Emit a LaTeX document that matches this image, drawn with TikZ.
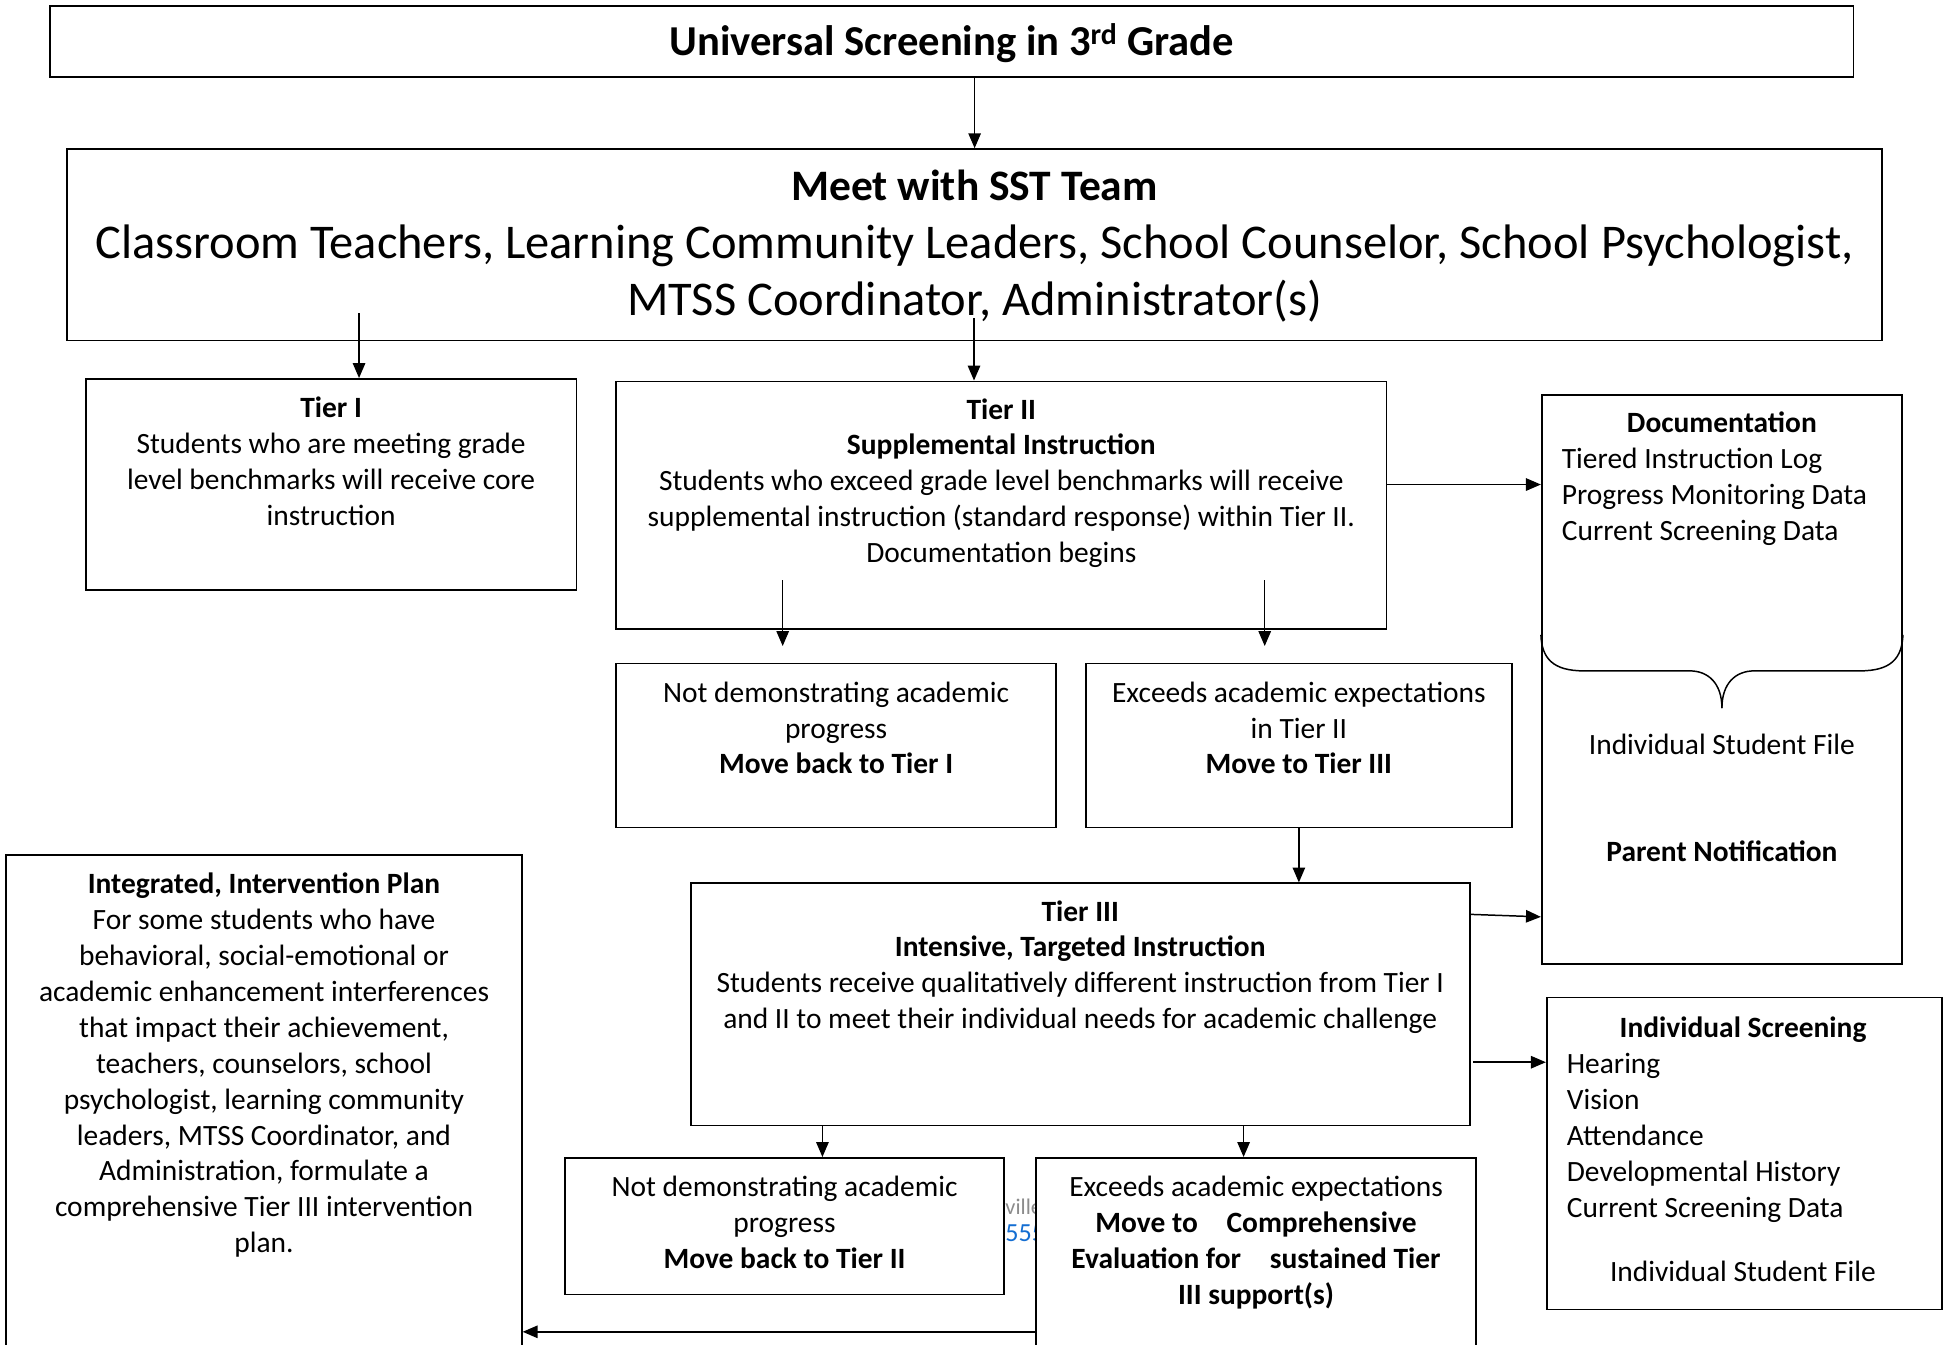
\documentclass[tikz,border=0pt]{standalone}
\usepackage{fontspec}
\setmainfont{Carlito}
\usetikzlibrary{arrows.meta}
\definecolor{artgray}{RGB}{140,140,140}
\definecolor{artblue}{RGB}{20,110,210}
\tikzset{
  box/.style={draw, line width=1.4pt, fill=white, inner sep=0pt},
  txt/.style={anchor=north, inner sep=0pt, align=center, font=\fontsize{23.7}{28.9}\selectfont},
  ltxt/.style={anchor=north west, inner sep=0pt, align=left, font=\fontsize{23.7}{28.9}\selectfont},
  arr/.style={line width=1.2pt, -{Triangle[length=12pt,width=10pt]}},
  brace/.style={line width=1.2pt},
}
\begin{document}
\begin{tikzpicture}[x=1pt,y=-1pt]
\useasboundingbox (0,0) rectangle (1568,1082);
\fill[white] (0,0) rectangle (1568,1082);
\clip (0,0) rectangle (1568,1082);

% stray fragments behind boxes
\node[anchor=east, inner sep=0pt, text=artgray, font=\fontsize{18}{22}\selectfont] (art1) at (839,971) {ville};
\node[anchor=west, inner sep=0pt, text=artblue, font=\fontsize{21}{24}\selectfont] (art2) at (809,993) {555};

% boxes
\node[box, minimum width=1452pt, minimum height=57pt] (top) at (766,33.5) {};
\node[box, minimum width=1461pt, minimum height=154pt] (sst) at (784.5,197) {};
\node[box, minimum width=395pt, minimum height=170pt] (tier1) at (266.5,390) {};
\node[box, minimum width=620pt, minimum height=199pt] (tier2) at (806,406.5) {};
\node[box, minimum width=290pt, minimum height=458pt] (doc) at (1386,547) {};
\node[box, minimum width=354pt, minimum height=132pt] (nd1) at (673,600) {};
\node[box, minimum width=343pt, minimum height=132pt] (ex1) at (1045.5,600) {};
\node[box, minimum width=627pt, minimum height=195pt] (tier3) at (869.5,808.5) {};
\node[box, minimum width=318pt, minimum height=251pt] (isc) at (1404,928.5) {};
\node[box, minimum width=353pt, minimum height=110pt] (nd2) at (631.5,987) {};
\node[box, minimum width=354pt, minimum height=168pt] (ex2) at (1011,1016) {};
\node[box, minimum width=415pt, minimum height=412pt] (integ) at (212.5,894) {};

% texts
\node[inner sep=0pt, font=\fontsize{34.3}{40}\selectfont\bfseries] (toptxt) at (766,35) {Universal Screening in 3\textsuperscript{rd} Grade};
\node[txt, font=\fontsize{39}{46}\selectfont] (ssttxt) at (784.5,137) {\textbf{\fontsize{35}{46}\selectfont Meet with SST Team}\\Classroom Teachers, Learning Community Leaders, School Counselor, School Psychologist,\\MTSS Coordinator, Administrator(s)};
\node[txt] (t1txt) at (266.5,319.5) {\textbf{Tier I}\\Students who are meeting grade\\level benchmarks will receive core\\instruction};
\node[txt] (t2txt) at (806,320.5) {\textbf{Tier II}\\\textbf{Supplemental Instruction}\\Students who exceed grade level benchmarks will receive\\supplemental instruction (standard response) within Tier II.\\Documentation begins};
\node[txt] (doctitle) at (1386,331.5) {\textbf{Documentation}};
\node[ltxt] (doclist) at (1257,360.5) {Tiered Instruction Log\\Progress Monitoring Data\\Current Screening Data};
\node[txt] (docfile) at (1386,590.5) {Individual Student File};
\node[txt] (docparent) at (1386,676.5) {\textbf{Parent Notification}};
\node[txt] (nd1txt) at (673,548.5) {Not demonstrating academic\\progress\\\textbf{Move back to Tier I}};
\node[txt] (ex1txt) at (1045.5,548.5) {Exceeds academic expectations\\in Tier II\\\textbf{Move to Tier III}};
\node[txt] (t3txt) at (869.5,724.5) {\textbf{Tier III}\\\textbf{Intensive, Targeted Instruction}\\Students receive qualitatively different instruction from Tier I\\and II to meet their individual needs for academic challenge};
\node[txt] (isctitle) at (1403,818.5) {\textbf{Individual Screening}};
\node[ltxt] (isclist) at (1261,847.5) {Hearing\\Vision\\Attendance\\Developmental History\\Current Screening Data};
\node[txt] (iscfile) at (1403,1014.5) {Individual Student File};
\node[txt] (nd2txt) at (631.5,946.5) {Not demonstrating academic\\progress\\\textbf{Move back to Tier II}};
\node[txt] (ex2txt) at (1011,946.5) {Exceeds academic expectations\\\textbf{Move to\hspace{0.75em} Comprehensive}\\\textbf{Evaluation for\hspace{0.75em} sustained Tier}\\\textbf{III support(s)}};
\node[txt] (integtxt) at (212.5,702.5) {\textbf{Integrated, Intervention Plan}\\For some students who have\\behavioral, social-emotional or\\academic enhancement interferences\\that impact their achievement,\\teachers, counselors, school\\psychologist, learning community\\leaders, MTSS Coordinator, and\\Administration, formulate a\\comprehensive Tier III intervention\\plan.};

% brace in documentation box
\draw[brace] (doc.west |- 0,511) .. controls (1241,530) and (1250,540) .. (1275,540) -- (1360,540) .. controls (1375,540) and (1386,550) .. (1386,570);
\draw[brace] (doc.east |- 0,511) .. controls (1531,530) and (1522,540) .. (1497,540) -- (1412,540) .. controls (1397,540) and (1386,550) .. (1386,570);

% connectors
\coordinate (s1) at (289,252);
\coordinate (s2) at (784,256);
\coordinate (s3) at (630,467);
\coordinate (e3) at (630,520);
\coordinate (s4) at (1018,467);
\coordinate (e4) at (1018,520);
\coordinate (y390) at (0,390);
\coordinate (y736) at (0,736);
\coordinate (y738) at (0,738);
\coordinate (y855) at (0,855);
\coordinate (x662) at (662,0);
\coordinate (x1001) at (1001,0);
\coordinate (y1072) at (0,1072);

\draw[arr] (sst.north |- top.south) -- (sst.north);
\draw[arr] (s1) -- (s1 |- tier1.north);
\draw[arr] (s2) -- (s2 |- tier2.north);
\draw[arr] (tier2.east |- y390) -- (doc.west |- y390);
\draw[arr] (s3) -- (e3);
\draw[arr] (s4) -- (e4);
\draw[arr] (ex1.south) -- (ex1.south |- tier3.north);
\draw[arr] (tier3.east |- y736) -- (doc.west |- y738);
\draw[arr] ([xshift=2pt]tier3.east |- y855) -- (isc.west |- y855);
\draw[arr] (x662 |- tier3.south) -- (x662 |- nd2.north);
\draw[arr] (x1001 |- tier3.south) -- (x1001 |- ex2.north);
\draw[arr] (ex2.west |- y1072) -- (integ.east |- y1072);
\end{tikzpicture}
\end{document}
